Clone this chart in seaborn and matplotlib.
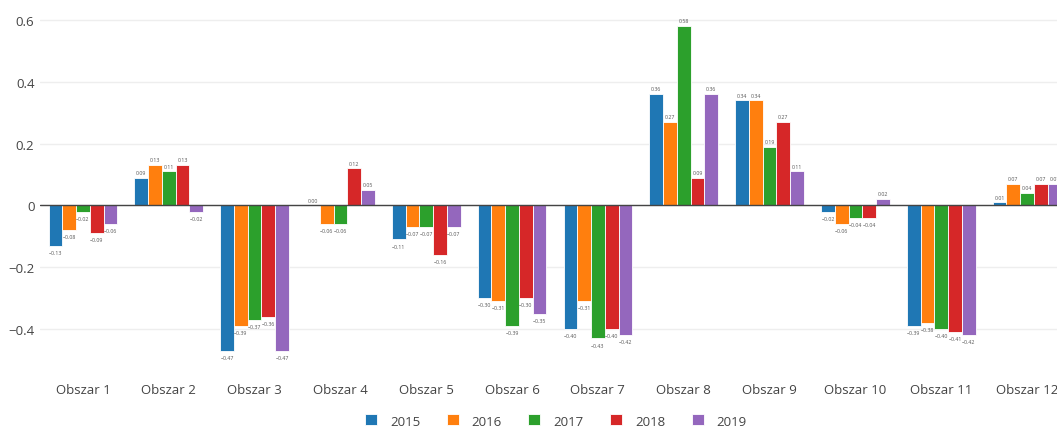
import matplotlib
matplotlib.use("Agg")
import matplotlib.pyplot as plt
import seaborn as sns
import pandas as pd
import numpy as np

categories = [f"Obszar {i}" for i in range(1, 13)]
years = ["2015", "2016", "2017", "2018", "2019"]
v2015 = [-0.13, 0.09, -0.47, 0.00, -0.11, -0.30, -0.40, 0.36, 0.34, -0.02, -0.39, 0.01]
v2016 = [-0.08, 0.13, -0.39, -0.06, -0.07, -0.31, -0.31, 0.27, 0.34, -0.06, -0.38, 0.07]
v2017 = [-0.02, 0.11, -0.37, -0.06, -0.07, -0.39, -0.43, 0.58, 0.19, -0.04, -0.40, 0.04]
v2018 = [-0.09, 0.13, -0.36, 0.12, -0.16, -0.30, -0.40, 0.09, 0.27, -0.04, -0.41, 0.07]
v2019 = [-0.06, -0.02, -0.47, 0.05, -0.07, -0.35, -0.42, 0.36, 0.11, 0.02, -0.42, 0.07]
series = [v2015, v2016, v2017, v2018, v2019]
colors = ["#1f77b4", "#ff7f0e", "#2ca02c", "#d62728", "#9467bd"]

rows = []
for y, vals in zip(years, series):
    for c, v in zip(categories, vals):
        rows.append({"Obszar": c, "Rok": y, "val": v})
df = pd.DataFrame(rows)

sns.set_style("white")
plt.rcParams["font.family"] = ["Open Sans", "DejaVu Sans"]

fig = plt.figure(figsize=(10.57, 4.27), dpi=100)
ax = fig.add_axes([40 / 1057, 62 / 427, 1030 / 1057, 365 / 427])

sns.barplot(data=df, x="Obszar", y="val", hue="Rok", order=categories,
            hue_order=years, palette=colors, width=0.8, saturation=1,
            edgecolor="white", linewidth=0.6, ax=ax, legend=True)

for cont, vals in zip(ax.containers, series):
    labels = [f"{v:.2f}".replace("-", "\u2212") for v in vals]
    for bar, lab, v in zip(cont, labels, vals):
        x = bar.get_x() + bar.get_width() / 2
        if v >= 0:
            ax.annotate(lab, (x, v), xytext=(0, 2), textcoords="offset points",
                        ha="center", va="bottom", fontsize=3.8, color="#555555")
        else:
            ax.annotate(lab, (x, v), xytext=(0, -3), textcoords="offset points",
                        ha="center", va="top", fontsize=3.8, color="#555555")

ax.set_xlim(-0.5, 11.5)
ax.set_ylim(-0.513, 0.668)
ax.set_yticks([-0.4, -0.2, 0, 0.2, 0.4, 0.6])
ax.set_yticklabels(["\u22120.4", "\u22120.2", "0", "0.2", "0.4", "0.6"])
ax.grid(axis="y", color="#eeeeee", linewidth=1)
ax.set_axisbelow(True)
ax.axhline(0, color="#444444", linewidth=1, zorder=3)
for s in ax.spines.values():
    s.set_visible(False)
ax.tick_params(axis="both", length=0, labelsize=9.5, colors="#444444")
ax.tick_params(axis="x", pad=14)
ax.tick_params(axis="y", pad=4)
ax.set_xlabel("")
ax.set_ylabel("")

handles, lbls = ax.get_legend_handles_labels()
ax.legend(handles, lbls, loc="center", bbox_to_anchor=(516 / 1030, -57 / 365),
          ncol=5, frameon=False, fontsize=9.5, handlelength=0.9, handleheight=0.9,
          columnspacing=2.0, handletextpad=1.0, labelcolor="#444444")

fig.savefig("out.png", dpi=100)
